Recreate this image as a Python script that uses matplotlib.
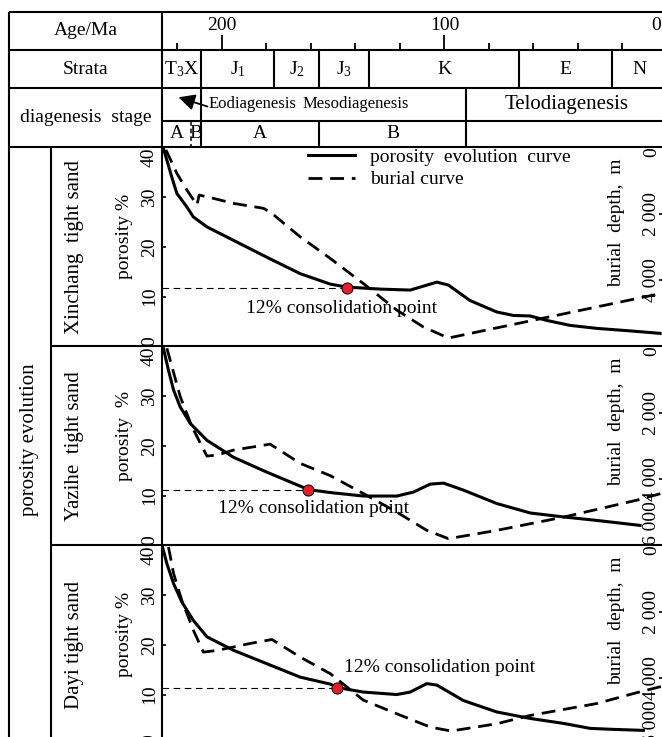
import matplotlib
matplotlib.use('Agg')
import matplotlib.pyplot as plt
from matplotlib.transforms import ScaledTranslation

plt.rcParams['font.family'] = ['Liberation Serif', 'DejaVu Serif']
plt.rcParams['mathtext.fontset'] = 'custom'
plt.rcParams['mathtext.rm'] = 'Liberation Serif'
plt.rcParams['font.size'] = 14

# ---- data ----
age_major = [200, 100, 0]
age_minor = [220, 180, 160, 140, 120, 80, 60, 40, 20]

strata_names = ['$\\mathregular{T_3X}$', '$\\mathregular{J_1}$', '$\\mathregular{J_2}$',
                '$\\mathregular{J_3}$', 'K', 'E', 'N']
strata_bounds = [226.9, 209.3, 176.5, 156.3, 133.8, 66.3, 24.8, 0]

stage_names = ['A', 'B', 'A', 'B']
stage_bounds = [226.9, 213.9, 209.3, 156.3, 90.4]

samples = ['Xinchang  tight sand', 'Yazihe  tight sand', 'Dayi tight sand']
por_labels = ['porosity %', 'porosity  %', 'porosity %']

xinchang_por_age = [226.2, 224.7, 222.5, 220.2, 215.7, 212.8, 206.7, 194.8, 179.8, 164.8, 151.3,
                    143.8, 128.9, 115.4, 110.9, 103.4, 98.2, 88.5, 76.5, 69.0, 61.5, 54.0, 43.5,
                    31.5, 16.6, 3.1]
xinchang_por = [39.7, 37.4, 34.0, 30.7, 28.0, 26.0, 24.0, 21.3, 17.9, 14.6, 12.5,
                11.9, 11.5, 11.3, 11.9, 12.9, 12.3, 9.2, 6.9, 6.2, 6.1, 5.2, 4.2,
                3.6, 3.1, 2.6]
xinchang_bur_age = [225.1, 220.2, 215.7, 211.2, 210.2, 203.8, 194.8, 181.3, 178.3, 164.8, 151.3,
                    136.4, 121.4, 109.4, 98.2, 2.2]
xinchang_bur = [80, 790, 1290, 1740, 1440, 1540, 1690, 1840, 1950, 2700, 3350,
                4110, 4910, 5420, 5750, 4400]

yazihe_por_age = [226.2, 224.0, 221.7, 218.7, 214.2, 206.7, 194.8, 179.8, 161.1, 151.3, 136.4,
                  121.4, 113.9, 106.4, 100.4, 91.5, 76.5, 61.5, 46.5, 31.5, 12.1]
yazihe_por = [39.5, 35.2, 31.2, 27.8, 24.5, 21.1, 17.7, 14.7, 11.2, 10.6, 9.9,
              9.9, 10.7, 12.3, 12.5, 11.1, 8.4, 6.5, 5.7, 5.0, 4.0]
yazihe_bur_age = [224.7, 218.7, 213.4, 206.7, 202.2, 194.8, 178.3, 164.8, 151.3, 136.4, 121.4,
                  107.9, 98.2, 76.5, 46.5, 13.6, 2.2]
yazihe_bur = [60, 1520, 2430, 3310, 3280, 3130, 2950, 3530, 3900, 4440, 5000,
              5550, 5800, 5550, 5150, 4640, 4430]

dayi_por_age = [226.7, 224.7, 221.7, 218.0, 212.8, 206.7, 194.8, 179.8, 164.8, 151.3, 148.1,
                136.4, 121.4, 115.4, 107.9, 103.4, 91.5, 76.5, 61.5, 46.5, 34.5, 24.1, 10.6]
dayi_por = [39.7, 36.3, 32.3, 28.6, 24.9, 21.6, 18.9, 16.2, 13.5, 12.1, 11.4,
            10.5, 10.0, 10.5, 12.2, 11.9, 8.8, 6.5, 5.2, 4.2, 3.2, 3.0, 2.8]
dayi_bur_age = [224.0, 221.7, 218.0, 212.8, 208.3, 202.2, 187.3, 177.5, 164.8, 151.3, 136.4,
                121.4, 106.4, 97.0, 76.5, 61.5, 31.5, 15.1, 2.2]
dayi_bur = [50, 850, 1660, 2560, 3220, 3170, 2960, 2840, 3370, 3870, 4670,
            5080, 5480, 5600, 5380, 5130, 4770, 4470, 4250]

consol_age = [143.6, 161.1, 148.1]
consol_por = [11.8, 11.2, 11.4]

depth_ticks = [0, 2000, 4000, 6000]
depth_labels = [['0', '2 000', '4 000', ''],
                ['0', '2 000', '4 000', '6 000'],
                ['0', '2 000', '4 000', '6 000']]

por_ages = [xinchang_por_age, yazihe_por_age, dayi_por_age]
pors = [xinchang_por, yazihe_por, dayi_por]
bur_ages = [xinchang_bur_age, yazihe_bur_age, dayi_bur_age]
burs = [xinchang_bur, yazihe_bur, dayi_bur]

# ---- layout (pixels) ----
W, H = 662, 737
AGE0 = strata_bounds[0]
X_LEFT, X_COL, X_PLOT, X_RIGHT = 9.3, 50.7, 162, 667
Y_TOP, Y_AGE, Y_STRATA, Y_DIAG, Y_HEAD = 11.7, 50, 88, 120.7, 147.3
PANEL_H = 199
note_pos = [(146, 7.6), (159, 7.4), (102, 15.5)]
LW = 1.5


def rect(x0, y0, x1, y1):
    return [x0 / W, 1 - y1 / H, (x1 - x0) / W, (y1 - y0) / H]


fig = plt.figure(figsize=(W / 100, H / 100), dpi=100)

# table frame in pixel coordinates
frame = fig.add_axes([0, 0, 1, 1])
frame.set_xlim(0, W)
frame.set_ylim(H, 0)
frame.axis('off')
frame.hlines([Y_TOP, Y_AGE, Y_STRATA, Y_HEAD], X_LEFT, W, color='k', lw=LW)
frame.hlines(Y_DIAG, X_PLOT, W, color='k', lw=LW)
frame.hlines([Y_HEAD + PANEL_H, Y_HEAD + 2 * PANEL_H], X_COL, W, color='k', lw=LW)
frame.vlines([X_LEFT, X_PLOT], Y_TOP, H, color='k', lw=LW)
frame.vlines(X_COL, Y_HEAD, H, color='k', lw=LW)
xc = (X_LEFT + X_PLOT) / 2
frame.text(xc, (Y_TOP + Y_AGE) / 2, 'Age/Ma', ha='center', va='center')
frame.text(xc, (Y_AGE + Y_STRATA) / 2, 'Strata', ha='center', va='center')
frame.text(xc, (Y_STRATA + Y_HEAD) / 2, 'diagenesis  stage', ha='center', va='center')
frame.text((X_LEFT + X_COL) / 2, 440, 'porosity evolution', rotation=90, ha='center', va='center',
           fontsize=15)
for i, name in enumerate(samples):
    frame.text(75, Y_HEAD + PANEL_H * (i + 0.5), name, rotation=90, ha='center', va='center',
               fontsize=15)

# age scale row
ax_age = fig.add_axes(rect(X_PLOT, Y_TOP, X_RIGHT, Y_AGE))
ax_age.set_xlim(AGE0, 0)
ax_age.patch.set_visible(False)
for s in ax_age.spines.values():
    s.set_visible(False)
ax_age.set_yticks([])
ax_age.set_xticks(age_major)
ax_age.set_xticks(age_minor, minor=True)
ax_age.tick_params(axis='x', which='major', direction='in', length=10.8, width=1.3, pad=-24)
ax_age.tick_params(axis='x', which='minor', direction='in', length=4.8, width=1.3)
for lab in ax_age.get_xticklabels():
    if lab.get_text() == '0':
        lab.set_ha('right')
        lab.set_transform(lab.get_transform() + ScaledTranslation(-4 / 72, 0, fig.dpi_scale_trans))

# strata and diagenesis rows
hdr = fig.add_axes(rect(X_PLOT, Y_TOP, X_RIGHT, Y_HEAD))
hdr.set_xlim(AGE0, 0)
hdr.set_ylim(Y_HEAD, Y_TOP)
hdr.axis('off')
hdr.vlines(strata_bounds[2:-1], Y_AGE, Y_STRATA, color='k', lw=LW)
hdr.vlines(strata_bounds[1], Y_AGE, Y_HEAD, color='k', lw=LW)
for name, a, b in zip(strata_names, strata_bounds[:-1], strata_bounds[1:]):
    hdr.text((a + b) / 2, (Y_AGE + Y_STRATA) / 2, name, ha='center', va='center')
hdr.vlines(stage_bounds[1], Y_DIAG, Y_HEAD, color='k', lw=1.1, linestyles=(0, (3, 2)))
hdr.vlines(stage_bounds[3], Y_DIAG, Y_HEAD, color='k', lw=LW)
hdr.vlines(stage_bounds[4], Y_STRATA, Y_HEAD, color='k', lw=LW)
for name, a, b in zip(stage_names, stage_bounds[:-1], stage_bounds[1:]):
    hdr.text((a + b) / 2, (Y_DIAG + Y_HEAD) / 2, name, ha='center', va='center')
ymid = (Y_STRATA + Y_DIAG) / 2
hdr.text(206.2, ymid, 'Eodiagenesis', ha='left', va='center', fontsize=12)
hdr.text(163.8, ymid, 'Mesodiagenesis', ha='left', va='center', fontsize=12)
hdr.text(stage_bounds[4] / 2, ymid, 'Telodiagenesis', ha='center', va='center', fontsize=15)
hdr.annotate('', xy=(219.5, 97.3), xytext=(206.5, 106.5),
             arrowprops=dict(arrowstyle='-|>,head_length=0.7,head_width=0.35', color='k', lw=1.3,
                             shrinkA=0, shrinkB=0, mutation_scale=14))

# porosity panels
for i in range(3):
    top = Y_HEAD + i * PANEL_H
    ax = fig.add_axes(rect(X_PLOT, top, X_RIGHT, top + PANEL_H))
    ax.set_xlim(AGE0, 0)
    ax.set_ylim(0, 40)
    ax.patch.set_visible(False)
    for s in ax.spines.values():
        s.set_visible(False)
    ax.set_xticks([])
    ax2 = ax.twinx()
    ax2.set_ylim(6000, 0)
    for s in ax2.spines.values():
        s.set_visible(False)

    ax.set_yticks([0, 10, 20, 30, 40])
    ax.tick_params(axis='y', direction='in', length=3, width=1.2, pad=3, labelrotation=90)
    ylabs = ax.get_yticklabels()
    for lab in ylabs:
        lab.set_va('center')
    ylabs[0].set_va('bottom')
    ylabs[-1].set_va('top')

    ax2.set_yticks(depth_ticks, depth_labels[i])
    ax2.tick_params(axis='y', direction='in', length=6, width=1.2, pad=-17, labelrotation=90)
    dlabs = ax2.get_yticklabels()
    for lab in dlabs:
        lab.set_va('center')
    dlabs[0].set_va('top')
    dlabs[-1].set_va('bottom')

    l1, = ax.plot(por_ages[i], pors[i], color='k', lw=2.2, solid_joinstyle='round',
                  label='porosity  evolution  curve')
    l2, = ax2.plot(bur_ages[i], burs[i], color='k', lw=2.0, dashes=(5, 2.8),
                   label='burial curve')
    ax.plot([AGE0, consol_age[i]], [consol_por[i], consol_por[i]], color='k', lw=0.8,
            dashes=(6, 4))
    ax2.plot(consol_age[i], (40 - consol_por[i]) / 40 * 6000, 'o', ms=8, mfc='#e3202a',
             mec='k', mew=0.7, zorder=5)
    ax.text(note_pos[i][0], note_pos[i][1], '12% consolidation point', ha='center', va='center')
    ax.text(-0.0733, 0.55, por_labels[i], transform=ax.transAxes, rotation=90,
            ha='center', va='center')
    ax.text(0.901, 0.62, 'burial  depth,  m', transform=ax.transAxes, rotation=90,
            ha='center', va='center')
    if i == 0:
        ax2.legend([l1, l2], [l1.get_label(), l2.get_label()], loc='upper left',
                   bbox_to_anchor=(0.289, 0.995), frameon=False, handlelength=2.4,
                   handletextpad=0.8, labelspacing=0.25, borderpad=0, borderaxespad=0)

fig.savefig('out.png', dpi=100)
